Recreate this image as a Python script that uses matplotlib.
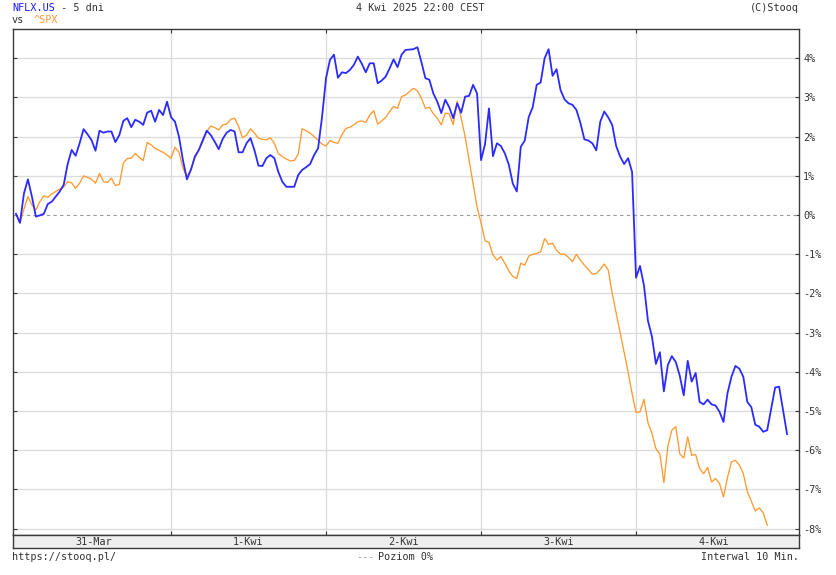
import matplotlib
matplotlib.use("Agg")
import matplotlib.pyplot as plt
import numpy as np

# ---- data (percent change vs. start, 10-minute bars) ----
day_labels = ["31-Mar", "1-Kwi", "2-Kwi", "3-Kwi", "4-Kwi"]
bars_per_day = 39

nflx = [0.03, -0.2, 0.55, 0.91, 0.47, -0.04, -0.01, 0.03, 0.28, 0.34,
        0.47, 0.6, 0.77, 1.3, 1.66, 1.51, 1.83, 2.19, 2.06, 1.91,
        1.64, 2.15, 2.10, 2.13, 2.13, 1.86, 2.04, 2.4, 2.47, 2.24,
        2.43, 2.38, 2.30, 2.61, 2.66, 2.38, 2.68, 2.55, 2.89, 2.5,
        2.38, 2.0, 1.4, 0.91, 1.15, 1.49, 1.66, 1.91, 2.15, 2.04,
        1.87, 1.68, 1.94, 2.10, 2.17, 2.13, 1.6, 1.6, 1.83, 1.96,
        1.65, 1.26, 1.25, 1.45, 1.53, 1.45, 1.1, 0.85, 0.72, 0.72,
        0.72, 1.02, 1.15, 1.22, 1.30, 1.53, 1.7, 2.5, 3.49, 3.96,
        4.09, 3.5, 3.64, 3.62, 3.70, 3.83, 4.04, 3.86, 3.64, 3.87,
        3.87, 3.36, 3.43, 3.53, 3.74, 3.97, 3.77, 4.09, 4.21, 4.22,
        4.23, 4.28, 3.9, 3.49, 3.45, 3.1, 2.89, 2.60, 2.94, 2.75,
        2.47, 2.85, 2.61, 3.02, 3.04, 3.32, 3.1, 1.4, 1.8, 2.72,
        1.5, 1.83, 1.76, 1.57, 1.28, 0.8, 0.6, 1.74, 1.9, 2.5,
        2.75, 3.32, 3.38, 4.0, 4.23, 3.55, 3.72, 3.19, 2.95, 2.85,
        2.81, 2.68, 2.35, 1.93, 1.90, 1.83, 1.65, 2.38, 2.64, 2.49,
        2.3, 1.76, 1.49, 1.30, 1.45, 1.1, -1.6, -1.3, -1.8, -2.7,
        -3.1, -3.8, -3.5, -4.5, -3.83, -3.6, -3.75, -4.1, -4.6, -3.72,
        -4.25, -4.03, -4.77, -4.83, -4.71, -4.83, -4.86, -5.02, -5.28, -4.55,
        -4.13, -3.85, -3.92, -4.13, -4.77, -4.9, -5.35, -5.40, -5.53, -5.49,
        -4.94, -4.4, -4.38, -4.98, -5.59]

spx = [0.03, -0.2, 0.15, 0.47, 0.26, 0.13, 0.34, 0.49, 0.45, 0.54,
       0.6, 0.66, 0.71, 0.85, 0.82, 0.68, 0.81, 1.0, 0.96, 0.91,
       0.81, 1.06, 0.85, 0.83, 0.94, 0.75, 0.78, 1.32, 1.44, 1.45,
       1.57, 1.47, 1.39, 1.85, 1.79, 1.70, 1.65, 1.6, 1.53, 1.45,
       1.73, 1.6, 1.2, 0.98, 1.17, 1.45, 1.66, 1.87, 2.13, 2.27,
       2.23, 2.17, 2.30, 2.32, 2.44, 2.47, 2.26, 1.97, 2.04, 2.20,
       2.09, 1.96, 1.93, 1.92, 1.97, 1.83, 1.57, 1.49, 1.43, 1.38,
       1.39, 1.55, 2.2, 2.15, 2.09, 2.0, 1.91, 1.81, 1.76, 1.9,
       1.85, 1.83, 2.05, 2.21, 2.24, 2.3, 2.38, 2.4, 2.36, 2.55,
       2.66, 2.32, 2.40, 2.49, 2.64, 2.77, 2.72, 3.02, 3.06, 3.15,
       3.23, 3.17, 2.98, 2.72, 2.75, 2.58, 2.47, 2.3, 2.6, 2.58,
       2.3, 2.9, 2.47, 2.0, 1.4, 0.8, 0.2, -0.2, -0.66, -0.7,
       -1.02, -1.15, -1.06, -1.23, -1.43, -1.57, -1.62, -1.23, -1.28, -1.05,
       -1.0, -0.98, -0.94, -0.6, -0.75, -0.72, -0.9, -1.0, -1.0, -1.08,
       -1.19, -1.0, -1.15, -1.28, -1.39, -1.51, -1.49, -1.39, -1.25, -1.4,
       -2.0, -2.5, -3.0, -3.5, -4.0, -4.55, -5.04, -5.02, -4.7, -5.3,
       -5.57, -5.96, -6.1, -6.83, -5.9, -5.49, -5.4, -6.09, -6.2, -5.66,
       -6.13, -6.11, -6.47, -6.60, -6.44, -6.81, -6.72, -6.85, -7.19, -6.7,
       -6.30, -6.26, -6.38, -6.60, -7.06, -7.3, -7.55, -7.47, -7.6, -7.91]

y_ticks = list(range(-8, 5))
y_tick_labels = [f"{v}%" for v in y_ticks]

# ---- style ----
W, H = 837, 575
BLUE = "#2b2bff"
ORANGE = "#ff9a30"
GRID = "#dcdcdc"
FRAME = "#3a3a3a"
TXT = "#333333"
MONO = "DejaVu Sans Mono"
FS = 7.3

fig = plt.figure(figsize=(W / 100, H / 100), dpi=100)
fig.patch.set_facecolor("white")

def fx(px):
    return px / W

def fy(py):
    return 1 - py / H

L, R, T, B = 13, 799, 29, 535
ax = fig.add_axes([fx(L), fy(B), fx(R) - fx(L), fy(T) - fy(B)])

x_n = np.arange(len(nflx))
x_s = np.arange(len(spx))
ax.plot(x_s, spx, color=ORANGE, lw=0.95, zorder=3, solid_joinstyle="round")
ax.plot(x_n, nflx, color=BLUE, lw=1.3, zorder=4, solid_joinstyle="round")

n_days = len(day_labels)
xmin, xmax = -0.755, 197.0
ax.set_xlim(xmin, xmax)
ax.set_ylim(-8.163, 4.745)

bounds = [bars_per_day * d for d in range(1, n_days)]
for b in bounds:
    ax.axvline(b, color=GRID, lw=1.0, zorder=1)
for v in y_ticks:
    if v != 0:
        ax.axhline(v, color=GRID, lw=1.0, zorder=1)
ax.axhline(0, color="#999999", lw=0.8, ls=(0, (3, 3)), zorder=2)

ax.set_yticks(y_ticks)
ax.set_yticklabels(y_tick_labels)
ax.tick_params(axis="y", left=True, right=True, labelleft=False, labelright=True,
               direction="in", length=3, width=0.8, color=FRAME, pad=3,
               labelsize=FS, labelcolor=TXT)
for lab in ax.get_yticklabels():
    lab.set_fontfamily(MONO)
ax.set_xticks(bounds)
ax.tick_params(axis="x", top=True, bottom=True, labelbottom=False,
               direction="in", length=3, width=0.8, color=FRAME)
for s in ax.spines.values():
    s.set_color(FRAME)
    s.set_linewidth(1.0)

# date band
band = fig.add_axes([fx(L), fy(548), fx(R) - fx(L), fy(535) - fy(548)])
band.set_facecolor("#eeeeee")
band.set_xlim(xmin, xmax)
band.set_ylim(0, 1)
band.set_xticks([])
band.set_yticks([])
for s in band.spines.values():
    s.set_color(FRAME)
    s.set_linewidth(1.0)
for d, lab in enumerate(day_labels):
    band.text(bars_per_day * d + bars_per_day / 2, 0.45, lab, ha="center", va="center",
              fontsize=FS, family=MONO, color=TXT)

# header / footer texts
cw = 0.602 * FS * 100 / 72  # char width in px
fig.text(fx(12), fy(8), "NFLX.US", color="#1a1aff", fontsize=FS, family=MONO, va="center")
fig.text(fx(12 + 7 * cw), fy(8), " - 5 dni", color=TXT, fontsize=FS, family=MONO, va="center")
fig.text(fx(12), fy(20), "vs", color=TXT, fontsize=FS, family=MONO, va="center")
fig.text(fx(34), fy(20), "^SPX", color=ORANGE, fontsize=FS, family=MONO, va="center")
fig.text(fx(420), fy(8), "4 Kwi 2025 22:00 CEST", color=TXT, fontsize=FS, family=MONO,
         ha="center", va="center")
fig.text(fx(799), fy(8), "(C)Stooq", color=TXT, fontsize=FS, family=MONO, ha="right", va="center")

fig.text(fx(12), fy(557), "https://stooq.pl/", color=TXT, fontsize=FS, family=MONO, va="center")
fig.text(fx(356), fy(557), "---", color="#999999", fontsize=FS, family=MONO, va="center")
fig.text(fx(378), fy(557), "Poziom 0%", color=TXT, fontsize=FS, family=MONO, va="center")
fig.text(fx(799), fy(557), "Interwal 10 Min.", color=TXT, fontsize=FS, family=MONO,
         ha="right", va="center")

fig.savefig("out.png", dpi=100)
